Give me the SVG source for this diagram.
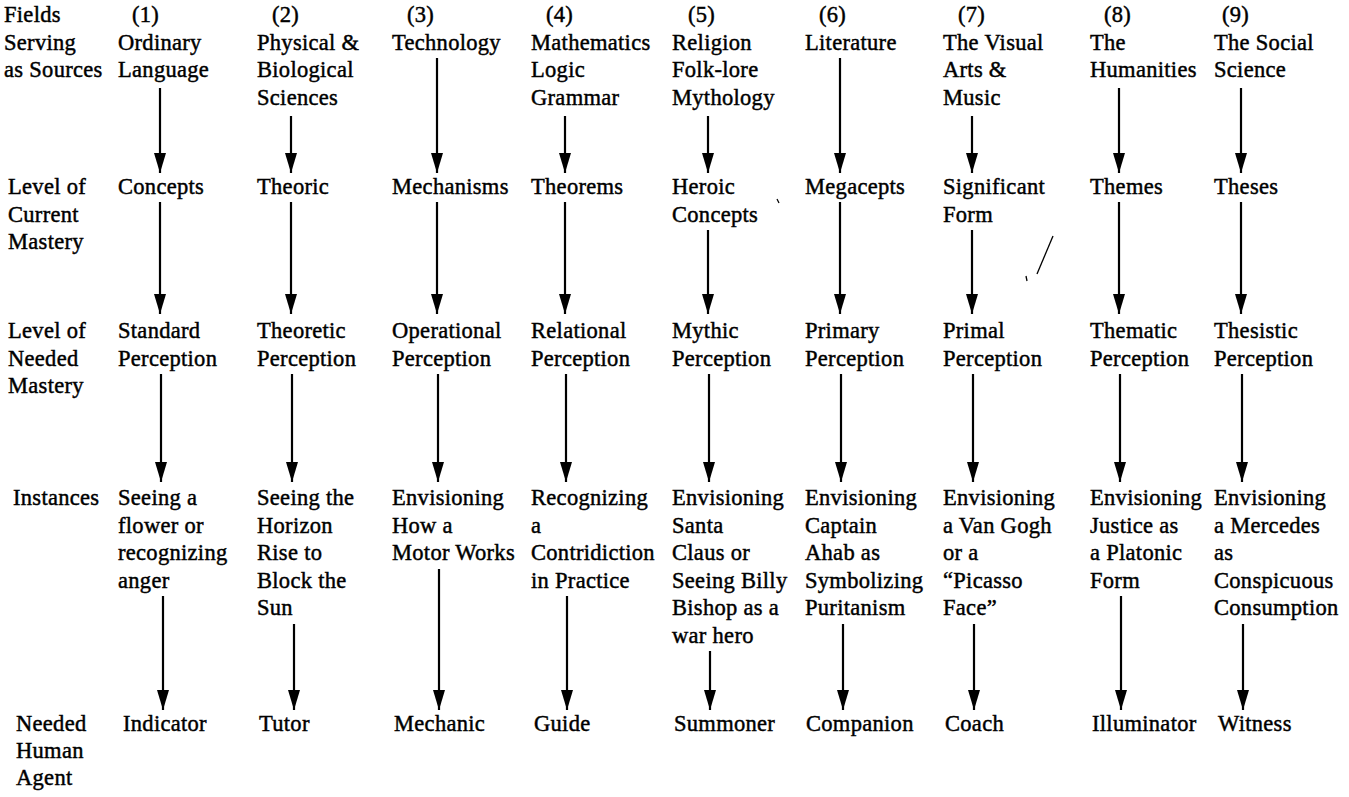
<svg xmlns="http://www.w3.org/2000/svg" width="1349" height="797" viewBox="0 0 1349 797">
<style>
text{font-family:"Liberation Serif","Times New Roman",serif;font-size:22.5px;letter-spacing:0.3px;fill:#000;stroke:#000;stroke-width:0.45}
.c{stroke:#000;stroke-width:2.2;fill:none;marker-end:url(#ah)}
.m{stroke:#000;stroke-width:1.3;fill:none}
</style>
<defs>
<marker id="ah" viewBox="0 0 20 12" refX="20" refY="6" markerWidth="20" markerHeight="12" markerUnits="userSpaceOnUse" orient="auto"><path d="M0,0 L20,6 L0,12 Z" fill="#000"/></marker>
</defs>
<rect width="1349" height="797" fill="#fff"/>
<g id="labels">
<g id="lab-fields"><text x="4" y="22">Fields<tspan x="4" dy="27.5">Serving</tspan><tspan x="4" dy="27.5">as Sources</tspan></text></g>
<g id="lab-current"><text x="8" y="194">Level of<tspan x="8" dy="27.5">Current</tspan><tspan x="8" dy="27.5">Mastery</tspan></text></g>
<g id="lab-needed"><text x="8" y="338">Level of<tspan x="8" dy="27.5">Needed</tspan><tspan x="8" dy="27.5">Mastery</tspan></text></g>
<g id="lab-instances"><text x="13" y="505">Instances</text></g>
<g id="lab-agent"><text x="16" y="731">Needed<tspan x="16" dy="27">Human</tspan><tspan x="16" dy="27">Agent</tspan></text></g>
</g>
<g id="sources">
<g id="src1"><text x="132" y="22">(1)</text><text x="118" y="49.5">Ordinary<tspan x="118" dy="27.5">Language</tspan></text></g>
<g id="src2"><text x="272" y="22">(2)</text><text x="257" y="49.5">Physical &amp;<tspan x="257" dy="27.5">Biological</tspan><tspan x="257" dy="27.5">Sciences</tspan></text></g>
<g id="src3"><text x="407" y="22">(3)</text><text x="392" y="49.5">Technology</text></g>
<g id="src4"><text x="546" y="22">(4)</text><text x="531" y="49.5">Mathematics<tspan x="531" dy="27.5">Logic</tspan><tspan x="531" dy="27.5">Grammar</tspan></text></g>
<g id="src5"><text x="688" y="22">(5)</text><text x="672" y="49.5">Religion<tspan x="672" dy="27.5">Folk-lore</tspan><tspan x="672" dy="27.5">Mythology</tspan></text></g>
<g id="src6"><text x="819" y="22">(6)</text><text x="805" y="49.5">Literature</text></g>
<g id="src7"><text x="958" y="22">(7)</text><text x="943" y="49.5">The Visual<tspan x="943" dy="27.5">Arts &amp;</tspan><tspan x="943" dy="27.5">Music</tspan></text></g>
<g id="src8"><text x="1104" y="22">(8)</text><text x="1090" y="49.5">The<tspan x="1090" dy="27.5">Humanities</tspan></text></g>
<g id="src9"><text x="1222" y="22">(9)</text><text x="1214" y="49.5">The Social<tspan x="1214" dy="27.5">Science</tspan></text></g>
</g>
<g id="current">
<g id="cur1"><text x="118" y="194">Concepts</text></g>
<g id="cur2"><text x="257" y="194">Theoric</text></g>
<g id="cur3"><text x="392" y="194">Mechanisms</text></g>
<g id="cur4"><text x="531" y="194">Theorems</text></g>
<g id="cur5"><text x="672" y="194">Heroic<tspan x="672" dy="27.5">Concepts</tspan></text></g>
<g id="cur6"><text x="805" y="194">Megacepts</text></g>
<g id="cur7"><text x="943" y="194">Significant<tspan x="943" dy="27.5">Form</tspan></text></g>
<g id="cur8"><text x="1090" y="194">Themes</text></g>
<g id="cur9"><text x="1214" y="194">Theses</text></g>
</g>
<g id="needed">
<g id="ned1"><text x="118" y="338">Standard<tspan x="118" dy="27.5">Perception</tspan></text></g>
<g id="ned2"><text x="257" y="338">Theoretic<tspan x="257" dy="27.5">Perception</tspan></text></g>
<g id="ned3"><text x="392" y="338">Operational<tspan x="392" dy="27.5">Perception</tspan></text></g>
<g id="ned4"><text x="531" y="338">Relational<tspan x="531" dy="27.5">Perception</tspan></text></g>
<g id="ned5"><text x="672" y="338">Mythic<tspan x="672" dy="27.5">Perception</tspan></text></g>
<g id="ned6"><text x="805" y="338">Primary<tspan x="805" dy="27.5">Perception</tspan></text></g>
<g id="ned7"><text x="943" y="338">Primal<tspan x="943" dy="27.5">Perception</tspan></text></g>
<g id="ned8"><text x="1090" y="338">Thematic<tspan x="1090" dy="27.5">Perception</tspan></text></g>
<g id="ned9"><text x="1214" y="338">Thesistic<tspan x="1214" dy="27.5">Perception</tspan></text></g>
</g>
<g id="instances">
<g id="ins1"><text x="118" y="505">Seeing a<tspan x="118" dy="27.5">flower or</tspan><tspan x="118" dy="27.5">recognizing</tspan><tspan x="118" dy="27.5">anger</tspan></text></g>
<g id="ins2"><text x="257" y="505">Seeing the<tspan x="257" dy="27.5">Horizon</tspan><tspan x="257" dy="27.5">Rise to</tspan><tspan x="257" dy="27.5">Block the</tspan><tspan x="257" dy="27.5">Sun</tspan></text></g>
<g id="ins3"><text x="392" y="505">Envisioning<tspan x="392" dy="27.5">How a</tspan><tspan x="392" dy="27.5">Motor Works</tspan></text></g>
<g id="ins4"><text x="531" y="505">Recognizing<tspan x="531" dy="27.5">a</tspan><tspan x="531" dy="27.5">Contridiction</tspan><tspan x="531" dy="27.5">in Practice</tspan></text></g>
<g id="ins5"><text x="672" y="505">Envisioning<tspan x="672" dy="27.5">Santa</tspan><tspan x="672" dy="27.5">Claus or</tspan><tspan x="672" dy="27.5">Seeing Billy</tspan><tspan x="672" dy="27.5">Bishop as a</tspan><tspan x="672" dy="27.5">war hero</tspan></text></g>
<g id="ins6"><text x="805" y="505">Envisioning<tspan x="805" dy="27.5">Captain</tspan><tspan x="805" dy="27.5">Ahab as</tspan><tspan x="805" dy="27.5">Symbolizing</tspan><tspan x="805" dy="27.5">Puritanism</tspan></text></g>
<g id="ins7"><text x="943" y="505">Envisioning<tspan x="943" dy="27.5">a Van Gogh</tspan><tspan x="943" dy="27.5">or a</tspan><tspan x="943" dy="27.5">“Picasso</tspan><tspan x="943" dy="27.5">Face”</tspan></text></g>
<g id="ins8"><text x="1090" y="505">Envisioning<tspan x="1090" dy="27.5">Justice as</tspan><tspan x="1090" dy="27.5">a Platonic</tspan><tspan x="1090" dy="27.5">Form</tspan></text></g>
<g id="ins9"><text x="1214" y="505">Envisioning<tspan x="1214" dy="27.5">a Mercedes</tspan><tspan x="1214" dy="27.5">as</tspan><tspan x="1214" dy="27.5">Conspicuous</tspan><tspan x="1214" dy="27.5">Consumption</tspan></text></g>
</g>
<g id="agents">
<g id="ag1"><text x="123" y="731">Indicator</text></g>
<g id="ag2"><text x="259" y="731">Tutor</text></g>
<g id="ag3"><text x="394" y="731">Mechanic</text></g>
<g id="ag4"><text x="534" y="731">Guide</text></g>
<g id="ag5"><text x="674" y="731">Summoner</text></g>
<g id="ag6"><text x="806" y="731">Companion</text></g>
<g id="ag7"><text x="945" y="731">Coach</text></g>
<g id="ag8"><text x="1092" y="731">Illuminator</text></g>
<g id="ag9"><text x="1218" y="731">Witness</text></g>
</g>
<g id="connectors">
<line class="c" x1="160" y1="88" x2="160" y2="173"/>
<line class="c" x1="291" y1="116" x2="291" y2="173"/>
<line class="c" x1="437" y1="58" x2="437" y2="173"/>
<line class="c" x1="565" y1="116" x2="565" y2="173"/>
<line class="c" x1="708" y1="116" x2="708" y2="173"/>
<line class="c" x1="840" y1="58" x2="840" y2="173"/>
<line class="c" x1="972" y1="116" x2="972" y2="173"/>
<line class="c" x1="1119" y1="88" x2="1119" y2="173"/>
<line class="c" x1="1241" y1="88" x2="1241" y2="173"/>
<line class="c" x1="160" y1="202" x2="160" y2="314"/>
<line class="c" x1="291" y1="202" x2="291" y2="314"/>
<line class="c" x1="437" y1="202" x2="437" y2="314"/>
<line class="c" x1="565" y1="202" x2="565" y2="314"/>
<line class="c" x1="708" y1="230" x2="708" y2="314"/>
<line class="c" x1="840" y1="202" x2="840" y2="314"/>
<line class="c" x1="972" y1="230" x2="972" y2="314"/>
<line class="c" x1="1119" y1="202" x2="1119" y2="314"/>
<line class="c" x1="1241" y1="202" x2="1241" y2="314"/>
<line class="c" x1="161" y1="374" x2="161" y2="482"/>
<line class="c" x1="292" y1="374" x2="292" y2="482"/>
<line class="c" x1="438" y1="374" x2="438" y2="482"/>
<line class="c" x1="566" y1="374" x2="566" y2="482"/>
<line class="c" x1="709" y1="374" x2="709" y2="482"/>
<line class="c" x1="841" y1="374" x2="841" y2="482"/>
<line class="c" x1="973" y1="374" x2="973" y2="482"/>
<line class="c" x1="1120" y1="374" x2="1120" y2="482"/>
<line class="c" x1="1242" y1="374" x2="1242" y2="482"/>
<line class="c" x1="163" y1="596" x2="163" y2="710"/>
<line class="c" x1="294" y1="624" x2="294" y2="710"/>
<line class="c" x1="439" y1="569" x2="439" y2="710"/>
<line class="c" x1="567" y1="596" x2="567" y2="710"/>
<line class="c" x1="710" y1="651" x2="710" y2="710"/>
<line class="c" x1="843" y1="624" x2="843" y2="710"/>
<line class="c" x1="974" y1="624" x2="974" y2="710"/>
<line class="c" x1="1121" y1="596" x2="1121" y2="710"/>
<line class="c" x1="1243" y1="624" x2="1243" y2="710"/>
</g>
<g id="marks">
<path class="m" d="M1053,236 L1037,274"/>
<path class="m" d="M1026,276 L1027,281"/>
<path class="m" d="M777,199 L779,203"/>
</g>
</svg>
